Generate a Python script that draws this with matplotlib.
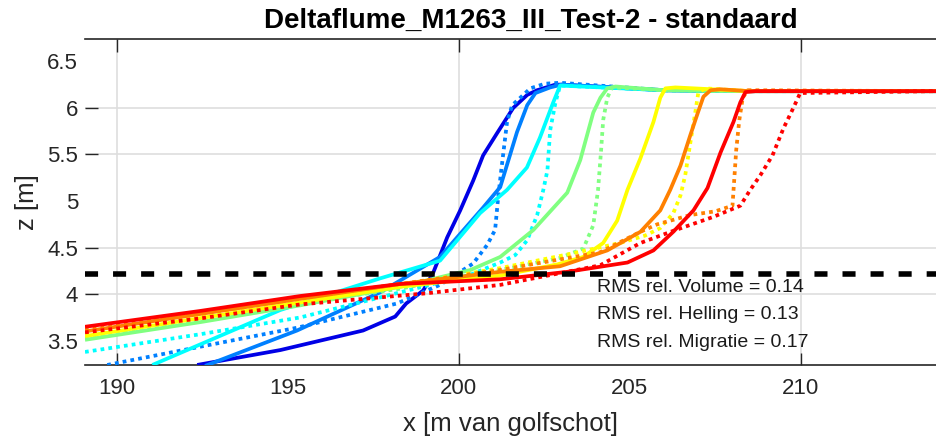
import matplotlib
matplotlib.use("Agg")
import matplotlib.pyplot as plt

plt.rcParams['font.family'] = ['Liberation Sans', 'DejaVu Sans']

# Profile colours (jet-like sequence, early -> late)
colors = [(0.0, 0.0, 0.9), (0.0, 0.5, 1.0), (0.0, 1.0, 1.0), (0.5, 1.0, 0.5),
          (1.0, 1.0, 0.0), (1.0, 0.5, 0.0), (1.0, 0.0, 0.0)]

# Dune crest plateau shared by all profiles
plateau_x = [203.0, 206.0, 208.5, 214.0]
plateau_z = [6.25, 6.19, 6.18, 6.18]

# Computed profiles (solid)
x_s0 = [192.35, 194.78, 197.2, 198.14, 198.46, 198.96, 199.25, 199.66, 200.04, 200.42, 200.71, 201.12, 201.59, 202.0, 202.29, 202.82]
z_s0 = [3.24, 3.40, 3.61, 3.76, 3.90, 4.04, 4.23, 4.61, 4.90, 5.22, 5.49, 5.73, 6.00, 6.14, 6.19, 6.25]
x_s1 = [192.58, 195.27, 197.7, 199.45, 200.71, 201.21, 201.7, 202.0, 202.24, 202.67]
z_s1 = [3.23, 3.61, 4.02, 4.40, 4.93, 5.15, 5.74, 6.03, 6.16, 6.22]
x_s2 = [191.04, 194.78, 197.7, 199.45, 200.62, 201.41, 201.99, 202.37, 202.75, 202.96]
z_s2 = [3.24, 3.83, 4.17, 4.36, 4.87, 5.12, 5.36, 5.68, 6.05, 6.24]
x_s3 = [189.07, 192.44, 195.36, 198.29, 200.34, 201.21, 202.18, 203.17, 203.55, 203.93, 204.14, 204.34, 204.58]
z_s3 = [3.51, 3.70, 3.88, 4.08, 4.26, 4.40, 4.69, 5.09, 5.44, 5.95, 6.11, 6.21, 6.23]
x_s4 = [189.07, 195.36, 198.29, 201.21, 202.88, 203.64, 204.22, 204.63, 204.93, 205.31, 205.69, 205.89, 206.04, 206.33]
z_s4 = [3.55, 3.91, 4.08, 4.20, 4.32, 4.40, 4.55, 4.79, 5.12, 5.46, 5.85, 6.11, 6.21, 6.22]
x_s5 = [189.07, 195.36, 198.29, 201.21, 202.96, 204.34, 205.31, 205.89, 206.18, 206.48, 206.77, 206.98, 207.15, 207.36, 207.65]
z_s5 = [3.60, 3.95, 4.11, 4.24, 4.30, 4.47, 4.67, 4.90, 5.12, 5.38, 5.71, 5.94, 6.12, 6.19, 6.20]
x_s6 = [189.07, 192.44, 195.36, 198.29, 201.21, 203.17, 204.93, 205.69, 206.27, 206.86, 207.27, 207.65, 208.03, 208.23, 208.38, 208.67]
z_s6 = [3.65, 3.82, 3.98, 4.11, 4.16, 4.24, 4.34, 4.47, 4.67, 4.90, 5.14, 5.52, 5.85, 6.06, 6.17, 6.18]

# Measured profiles (dotted)
x_d1 = [189.72, 195.27, 198.19, 199.45, 200.42, 200.83, 201.06, 201.15, 201.24, 201.41, 201.56, 201.8, 202.09, 202.52, 202.96]
z_d1 = [3.24, 3.64, 3.90, 4.10, 4.33, 4.53, 4.69, 5.04, 5.33, 5.85, 6.03, 6.11, 6.21, 6.26, 6.27]
x_d2 = [189.07, 192.44, 195.36, 198.29, 200.34, 201.21, 201.65, 202.0, 202.29, 202.47, 202.59, 202.67, 202.82, 202.96]
z_d2 = [3.38, 3.57, 3.75, 4.02, 4.21, 4.34, 4.42, 4.58, 4.85, 5.12, 5.33, 5.76, 6.05, 6.24]
x_d3 = [189.07, 195.36, 198.29, 201.21, 202.96, 203.64, 203.93, 204.07, 204.16, 204.22, 204.34, 204.48]
z_d3 = [3.53, 3.90, 4.06, 4.26, 4.39, 4.49, 4.74, 5.12, 5.55, 5.87, 6.11, 6.22]
x_d4 = [189.07, 195.36, 198.29, 201.21, 203.35, 204.72, 205.45, 205.89, 206.27, 206.48, 206.62, 206.77, 206.92, 207.0, 207.2]
z_d4 = [3.58, 3.94, 4.10, 4.28, 4.44, 4.55, 4.63, 4.71, 4.87, 5.06, 5.28, 5.63, 5.97, 6.16, 6.21]
x_d5 = [189.07, 195.36, 198.29, 201.21, 204.13, 205.31, 205.8, 206.77, 207.5, 208.0, 208.05, 208.11, 208.2, 208.3, 208.45]
z_d5 = [3.62, 3.96, 4.11, 4.26, 4.45, 4.67, 4.75, 4.85, 4.89, 4.95, 5.22, 5.55, 5.87, 6.11, 6.19]
x_d6 = [189.07, 192.44, 195.36, 199.07, 201.21, 204.13, 205.31, 206.27, 207.44, 208.23, 208.52, 208.82, 209.17, 209.49, 209.78, 209.98]
z_d6 = [3.59, 3.74, 3.89, 4.01, 4.10, 4.31, 4.55, 4.68, 4.83, 4.95, 5.12, 5.28, 5.49, 5.78, 6.00, 6.16]

solid = [(x_s0, z_s0), (x_s1, z_s1), (x_s2, z_s2), (x_s3, z_s3),
         (x_s4, z_s4), (x_s5, z_s5), (x_s6, z_s6)]
dotted = [None, (x_d1, z_d1), (x_d2, z_d2), (x_d3, z_d3),
          (x_d4, z_d4), (x_d5, z_d5), (x_d6, z_d6)]

water_level = 4.22
title = "Deltaflume_M1263_III_Test-2 - standaard"
stats = ["RMS rel. Volume = 0.14", "RMS rel. Helling = 0.13", "RMS rel. Migratie = 0.17"]

x_labels = [190, 195, 200, 205, 210]
z_labels = [3.5, 4, 4.5, 5, 5.5, 6, 6.5]
x_marks = [190, 200, 210]
z_marks = [4, 4.5, 5.5, 6]


def with_plateau(xs, zs):
    xs = list(xs)
    zs = list(zs)
    for px, pz in zip(plateau_x, plateau_z):
        if px > xs[-1] + 0.05:
            xs.append(px)
            zs.append(pz)
    return xs, zs


fig = plt.figure(figsize=(9.37, 4.41), dpi=100)
ax = fig.add_axes([85 / 937, (441 - 364.5) / 441, (937 - 85) / 937, (364.5 - 39) / 441])
ax.xaxis.remove_overlapping_locs = False
ax.yaxis.remove_overlapping_locs = False

for i, col in enumerate(colors):
    xs, zs = with_plateau(*solid[i])
    ax.plot(xs, zs, color=col, lw=2.7, solid_capstyle='butt', zorder=3 + 2 * i)
    if dotted[i] is not None:
        xd, zd = with_plateau(*dotted[i])
        ax.plot(xd, zd, color=col, lw=2.7, linestyle=(0, (1, 1.1)),
                dash_capstyle='butt', zorder=4 + 2 * i)

ax.axhline(water_level, color='black', lw=4, linestyle=(0, (2.35, 2.7)),
           dash_capstyle='butt', zorder=30)

ax.set_xlim(189.07, 213.98)
ax.set_ylim(3.245, 6.74)

ax.set_xticks(x_labels)
ax.set_xticklabels([str(v) for v in x_labels])
ax.set_yticks(z_labels)
ax.set_yticklabels([f"{v:g}" for v in z_labels])
ax.set_xticks(x_marks, minor=True)
ax.set_yticks(z_marks, minor=True)

ax.tick_params(which='major', length=0, labelsize=16, labelcolor=(0.15, 0.15, 0.15))
ax.tick_params(axis='x', which='major', pad=10)
ax.tick_params(axis='y', which='major', pad=5)
ax.tick_params(which='minor', direction='in', length=9, width=1,
               color=(0.15, 0.15, 0.15), top=True, left=True, right=False)

ax.grid(True, which='minor', color=(0.87, 0.87, 0.87), lw=1.2, zorder=0)
ax.grid(False, which='major')
ax.set_axisbelow(True)

for side in ('left', 'right'):
    ax.spines[side].set_visible(False)
for side in ('top', 'bottom'):
    ax.spines[side].set_color((0.15, 0.15, 0.15))
    ax.spines[side].set_linewidth(1.2)

ax.set_xlabel("x [m van golfschot]", fontsize=18.5, color=(0.15, 0.15, 0.15), labelpad=9)
ax.set_ylabel("z [m]", fontsize=18.5, color=(0.15, 0.15, 0.15), labelpad=6)
ax.set_title(title, fontsize=20, fontweight='bold', color='black', pad=8, x=0.5235)

for k, s in enumerate(stats):
    ax.text(0.601, 0.2373 - k * 0.0845, s, transform=ax.transAxes, fontsize=14,
            color=(0.1, 0.1, 0.1), va='center', ha='left', zorder=40)

fig.savefig("out.png", dpi=100)
